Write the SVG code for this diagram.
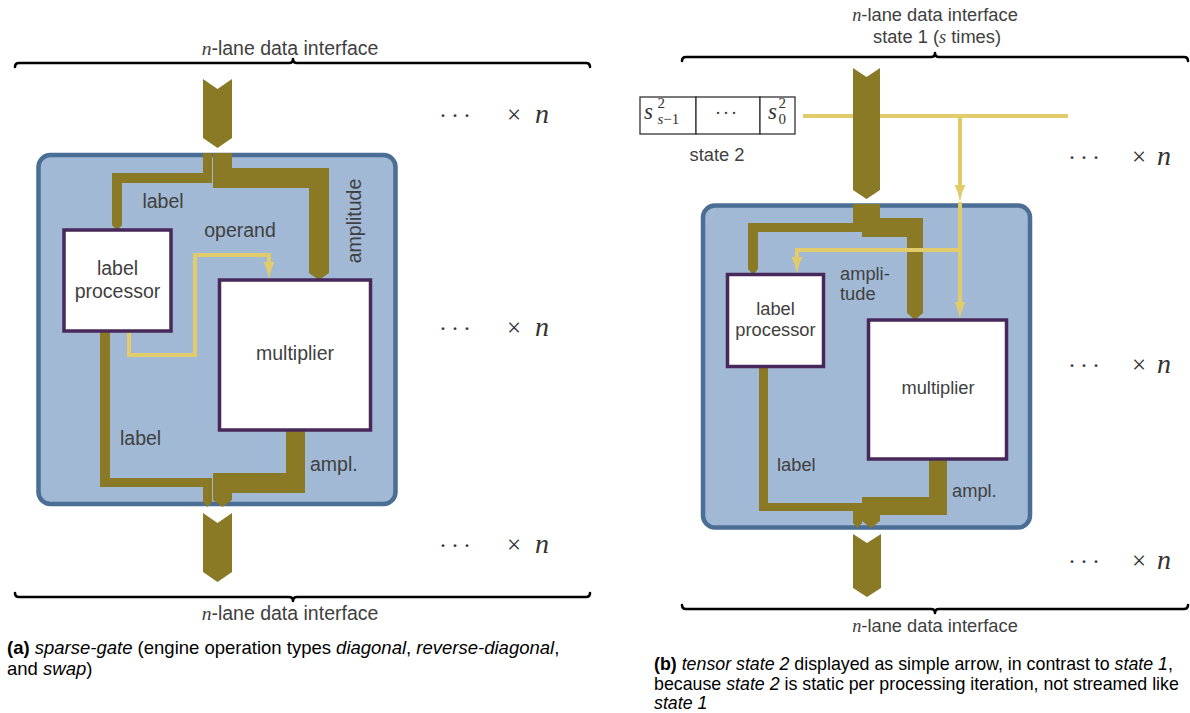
<svg xmlns="http://www.w3.org/2000/svg" width="1190" height="713" viewBox="0 0 1190 713">
  <style>
    .lane { fill: #8a7a25; }
    .engine { fill: #a1b9d4; stroke: #4a6e94; stroke-width: 4.5; }
    .unit { fill: #ffffff; stroke: #48285a; stroke-width: 3.5; }
    .cell { fill: #ffffff; stroke: #333333; stroke-width: 1.3; }
    .ctrl { fill: none; stroke: #e1cb6a; stroke-width: 4; }
    .brace { fill: none; stroke: #000000; stroke-width: 2.6; stroke-linecap: round; stroke-linejoin: round; }
    .lbl { font-family: "Liberation Sans", Arial, sans-serif; fill: #404040; }
    .la { font-size: 19.5px; }
    .lb { font-size: 18.3px; }
    .mi { font-family: "Liberation Serif", "Times New Roman", serif; font-style: italic; }
    .mr { font-family: "Liberation Serif", "Times New Roman", serif; }
    .rep { font-family: "Liberation Serif", "Times New Roman", serif; fill: #333333; }
    .dots { font-size: 24px; letter-spacing: 4px; }
    .times { font-size: 25px; }
    .nn { font-size: 28px; }
    .cap { font-family: "Liberation Sans", Arial, sans-serif; fill: #000000; }
    .ca { font-size: 18.5px; }
    .cb { font-size: 17.8px; }
    .it { font-style: italic; }
  </style>
  <defs>
    <marker id="ah" markerUnits="userSpaceOnUse" markerWidth="18" markerHeight="14" viewBox="0 0 18 14" refX="1" refY="7" orient="auto">
      <path d="M0,1.5 Q8,5.8 17,7 Q8,8.2 0,12.5 Z" fill="#e1cb6a"/>
    </marker>
  </defs>

  <!-- ===== (a) sparse-gate ===== -->
  <g id="interface-a-top">
    <text class="lbl la" x="290" y="55" text-anchor="middle"><tspan class="mi">n</tspan>-lane data interface</text>
    <path class="brace" d="M15,67 Q15,63 19,63 H289 Q293,63 293,59 Q293,63 297,63 H586 Q590,63 590,67"/>
    <polygon class="lane" points="203,79 217.5,89 232,79 232,138 217.5,148 203,138"/>
  </g>

  <g id="engine-a">
    <rect class="engine" x="38.5" y="155" width="357" height="349" rx="12"/>
  </g>

  <g id="connectors-a">
    <polygon class="lane" points="203,153 212,153 212,183 122,183 122,225 117,231 112,225 112,173 203,173"/>
    <polygon class="lane" points="213,153 232,153 232,168 329,168 329,273 319,280 309,273 309,188 213,188"/>
    <polygon class="lane" points="100,331 110,331 110,478 212,478 212,502 207.5,507 203,502 203,487 100,487"/>
    <polygon class="lane" points="286,429 305,429 305,493 232,493 232,500 222.5,507 213,500 213,473 286,473"/>
    <path class="ctrl" d="M129,332 V355 H195 V255 H269 V263" marker-end="url(#ah)"/>
    <text class="lbl la" x="163" y="208" text-anchor="middle">label</text>
    <text class="lbl la" x="240" y="237" text-anchor="middle">operand</text>
    <text class="lbl la" transform="translate(361,221) rotate(-90)" text-anchor="middle">amplitude</text>
    <text class="lbl la" x="120" y="445">label</text>
    <text class="lbl la" x="310" y="471">ampl.</text>
  </g>

  <g id="label-processor-a">
    <rect class="unit" x="64" y="230" width="107" height="101"/>
    <text class="lbl la" x="117.5" y="275" text-anchor="middle">label</text>
    <text class="lbl la" x="117.5" y="298" text-anchor="middle">processor</text>
  </g>

  <g id="multiplier-a">
    <rect class="unit" x="219.5" y="280" width="151" height="150"/>
    <text class="lbl la" x="295" y="360" text-anchor="middle">multiplier</text>
  </g>

  <g id="interface-a-bottom">
    <polygon class="lane" points="203,513 217.5,523 232,513 232,572 217.5,582 203,572"/>
    <path class="brace" d="M15,593 Q15,597 19,597 H289 Q293,597 293,601 Q293,597 297,597 H586 Q590,597 590,593"/>
    <text class="lbl la" x="290" y="620" text-anchor="middle"><tspan class="mi">n</tspan>-lane data interface</text>
  </g>

  <!-- lane replication marks: "··· × n" -->
  <g id="lanes-a" class="rep">
    <text y="123"><tspan x="439" class="dots">···</tspan><tspan x="507" class="times">×</tspan><tspan x="535" class="nn mi">n</tspan></text>
    <text y="336"><tspan x="439" class="dots">···</tspan><tspan x="507" class="times">×</tspan><tspan x="535" class="nn mi">n</tspan></text>
    <text y="553"><tspan x="439" class="dots">···</tspan><tspan x="507" class="times">×</tspan><tspan x="535" class="nn mi">n</tspan></text>
  </g>

  <g id="caption-a" class="cap ca">
    <text x="7" y="654"><tspan font-weight="bold">(a)</tspan> <tspan class="it">sparse-gate</tspan> (engine operation types <tspan class="it">diagonal</tspan>, <tspan class="it">reverse-diagonal</tspan>,</text>
    <text x="7" y="675">and <tspan class="it">swap</tspan>)</text>
  </g>

  <!-- ===== (b) tensor state 2 ===== -->
  <g id="interface-b-top">
    <text class="lbl lb" x="935" y="21" text-anchor="middle"><tspan class="mi">n</tspan>-lane data interface</text>
    <text class="lbl lb" x="937" y="43" text-anchor="middle">state 1 (<tspan class="mi">s</tspan> times)</text>
    <path class="brace" d="M682,61 Q682,57 686,57 H931 Q935,57 935,53 Q935,57 939,57 H1184 Q1188,57 1188,61"/>
  </g>

  <g id="state-2">
    <rect class="cell" x="640" y="97" width="56" height="37"/>
    <rect class="cell" x="696" y="97" width="64" height="37"/>
    <rect class="cell" x="760" y="97" width="35" height="37"/>
    <text class="mi" x="644" y="119" font-size="23" fill="#333">s</text>
    <text class="mr" x="657.5" y="107.5" font-size="15" fill="#333">2</text>
    <text x="657.5" y="124" font-size="15" fill="#333"><tspan class="mi">s</tspan><tspan class="mr">−1</tspan></text>
    <text class="mr" x="727" y="119" font-size="18" fill="#333" text-anchor="middle" letter-spacing="2">···</text>
    <text class="mi" x="768" y="119" font-size="23" fill="#333">s</text>
    <text class="mr" x="778.5" y="107.5" font-size="15" fill="#333">2</text>
    <text class="mr" x="778.5" y="124" font-size="15" fill="#333">0</text>
    <text class="lbl lb" x="717" y="161" text-anchor="middle">state 2</text>
  </g>

  <g id="state-2-bus">
    <path class="ctrl" d="M803,116 H1068"/>
    <path class="ctrl" d="M960,116 V186" marker-end="url(#ah)"/>
  </g>

  <g id="interface-b-lane-in">
    <polygon class="lane" points="853,68 866.5,77 880,68 880,190 866.5,199 853,190"/>
  </g>

  <g id="engine-b">
    <rect class="engine" x="703" y="205.5" width="327" height="322" rx="12"/>
  </g>

  <g id="connectors-b">
    <polygon class="lane" points="853,204 862,204 862,232 758,232 758,269 753,275 748,269 748,223 853,223"/>
    <polygon class="lane" points="862,204 880,204 880,218 923,218 923,313 915,320 907,313 907,237 862,237"/>
    <polygon class="lane" points="759,366 768,366 768,503 862,503 862,523 857.5,528 853,523 853,511 759,511"/>
    <polygon class="lane" points="929,458 947,458 947,515 880,515 880,521 871,528 862,521 862,497 929,497"/>
    <path class="ctrl" d="M960,202 V303" marker-end="url(#ah)"/>
    <path class="ctrl" d="M960,250 H797 V258" marker-end="url(#ah)"/>
    <text class="lbl lb" x="840" y="280">ampli-</text>
    <text class="lbl lb" x="840" y="300">tude</text>
    <text class="lbl lb" x="777" y="471">label</text>
    <text class="lbl lb" x="952" y="497">ampl.</text>
  </g>

  <g id="label-processor-b">
    <rect class="unit" x="727.5" y="274.5" width="96" height="92"/>
    <text class="lbl lb" x="775.5" y="315" text-anchor="middle">label</text>
    <text class="lbl lb" x="775.5" y="336" text-anchor="middle">processor</text>
  </g>

  <g id="multiplier-b">
    <rect class="unit" x="868.5" y="320" width="138" height="139"/>
    <text class="lbl lb" x="938" y="394" text-anchor="middle">multiplier</text>
  </g>

  <g id="interface-b-bottom">
    <polygon class="lane" points="853,534 867,543 881,534 881,588 867,597 853,588"/>
    <path class="brace" d="M682,605 Q682,609 686,609 H931 Q935,609 935,613 Q935,609 939,609 H1184 Q1188,609 1188,605"/>
    <text class="lbl lb" x="935" y="632" text-anchor="middle"><tspan class="mi">n</tspan>-lane data interface</text>
  </g>

  <g id="lanes-b" class="rep">
    <text y="165"><tspan x="1068" class="dots">···</tspan><tspan x="1132" class="times">×</tspan><tspan x="1157" class="nn mi">n</tspan></text>
    <text y="373"><tspan x="1068" class="dots">···</tspan><tspan x="1132" class="times">×</tspan><tspan x="1157" class="nn mi">n</tspan></text>
    <text y="569"><tspan x="1068" class="dots">···</tspan><tspan x="1132" class="times">×</tspan><tspan x="1157" class="nn mi">n</tspan></text>
  </g>

  <g id="caption-b" class="cap cb">
    <text x="654" y="670"><tspan font-weight="bold">(b)</tspan> <tspan class="it">tensor state 2</tspan> displayed as simple arrow, in contrast to <tspan class="it">state 1</tspan>,</text>
    <text x="654" y="690">because <tspan class="it">state 2</tspan> is static per processing iteration, not streamed like</text>
    <text x="654" y="709"><tspan class="it">state 1</tspan></text>
  </g>
</svg>
